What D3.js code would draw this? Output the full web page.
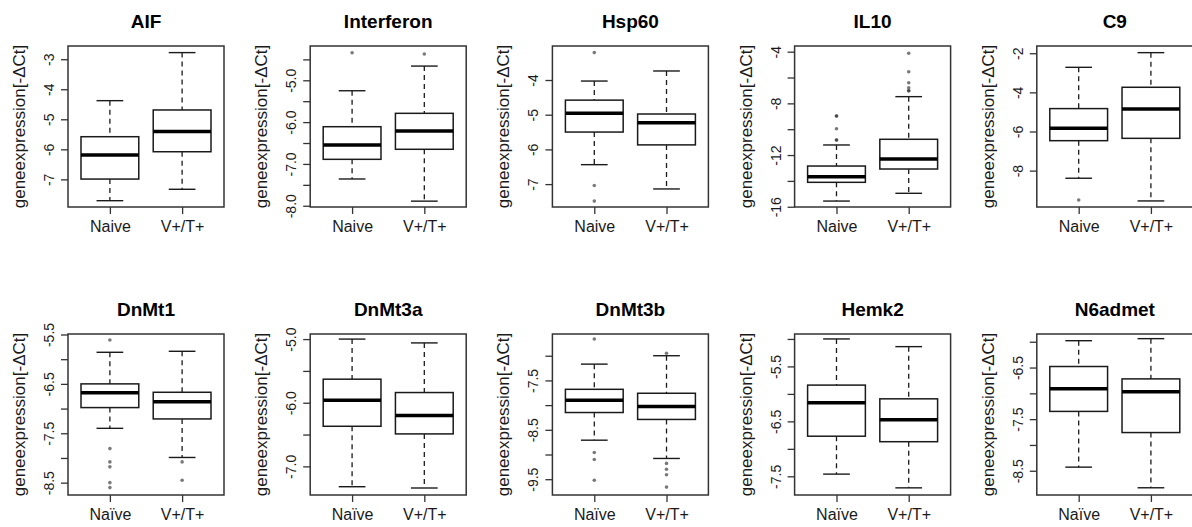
<!DOCTYPE html>
<html>
<head>
<meta charset="utf-8">
<script src="https://cdn.jsdelivr.net/npm/d3@7"></script>
<style>
  html, body { margin: 0; padding: 0; background: #fff; }
  svg { display: block; font-family: "Liberation Sans", Arial, Helvetica, sans-serif; }
</style>
</head>
<body>
<svg id="chart" width="1192" height="527"></svg>
<script>
// ---- data ----
const genes = ["AIF", "Interferon", "Hsp60", "IL10", "C9", "DnMt1", "DnMt3a", "DnMt3b", "Hemk2", "N6admet"];
const groupsTop = ["Naive", "V+/T+"];
const groupsBottom = ["Naïve", "V+/T+"];

// each entry: [Naive, V+/T+]
const whiskerLow  = [[-7.71, -7.33], [-7.36, -7.89], [-6.44, -7.14], [-15.56, -14.96], [-8.39, -9.55], [-7.40, -7.99], [-7.32, -7.34], [-8.71, -9.08], [-7.46, -7.71], [-8.43, -8.83]];
const quartile1   = [[-6.99, -6.08], [-6.89, -6.65], [-5.50, -5.87], [-14.11, -13.08], [-6.47, -6.35], [-6.98, -7.21], [-6.37, -6.49], [-8.15, -8.29], [-6.77, -6.87], [-7.35, -7.76]];
const medians     = [[-6.19, -5.41], [-6.55, -6.21], [-4.96, -5.23], [-13.67, -12.30], [-5.83, -4.85], [-6.68, -6.86], [-5.96, -6.20], [-7.90, -8.03], [-6.16, -6.47], [-6.91, -6.97]];
const quartile3   = [[-5.58, -4.69], [-6.11, -5.79], [-4.58, -4.98], [-12.85, -10.78], [-4.83, -3.74], [-6.50, -6.67], [-5.63, -5.84], [-7.68, -7.76], [-5.84, -6.09], [-6.48, -6.72]];
const whiskerHigh = [[-4.38, -2.78], [-5.25, -4.66], [-4.03, -3.74], [-11.22, -7.48], [-2.72, -1.97], [-5.86, -5.84], [-5.00, -5.06], [-7.17, -7.00], [-5.00, -5.14], [-5.98, -5.94]];
const outliers = [
  [[], []],
  [[-4.34], [-4.37]],
  [[-3.21, -7.04, -7.49], []],
  [[-8.98, -8.98, -9.96, -10.83, -10.83], [-4.12, -5.55, -6.40, -6.79, -7.02, -7.02]],
  [[-9.50], []],
  [[-5.61, -7.81, -8.08, -8.18, -8.50, -8.60], [-8.08, -8.45]],
  [[], []],
  [[-6.66, -8.96, -9.10, -9.52], [-6.95, -9.18, -9.30, -9.41, -9.66]],
  [[], []],
  [[], []]
];

const yDomains = [[-7.92, -2.56], [-8.03, -4.18], [-7.66, -3.02], [-16.02, -3.56], [-9.86, -1.63],
                  [-8.75, -5.49], [-7.45, -4.92], [-9.82, -6.56], [-7.84, -4.91], [-8.97, -5.85]];
const yTicks = [
  [-3, -4, -5, -6, -7],
  [-4.5, -5, -5.5, -6, -6.5, -7, -7.5, -8],
  [-4, -5, -6, -7],
  [-4, -6, -8, -10, -12, -14, -16],
  [-2, -4, -6, -8],
  [-5.5, -6, -6.5, -7, -7.5, -8, -8.5],
  [-5, -5.5, -6, -6.5, -7],
  [-7, -7.5, -8, -8.5, -9, -9.5],
  [-5, -5.5, -6, -6.5, -7, -7.5],
  [-6, -6.5, -7, -7.5, -8, -8.5]
];
const yTickLabels = [
  ["-3", "-4", "-5", "-6", "-7"],
  ["", "-5.0", "", "-6.0", "", "-7.0", "", "-8.0"],
  ["-4", "-5", "-6", "-7"],
  ["-4", "", "-8", "", "-12", "", "-16"],
  ["-2", "-4", "-6", "-8"],
  ["-5.5", "", "-6.5", "", "-7.5", "", "-8.5"],
  ["-5.0", "", "-6.0", "", "-7.0"],
  ["", "-7.5", "", "-8.5", "", "-9.5"],
  ["", "-5.5", "", "-6.5", "", "-7.5"],
  ["", "-6.5", "", "-7.5", "", "-8.5"]
];
const yAxisTitle = "geneexpression[-ΔCt]";

// ---- layout ----
const svg = d3.select("#chart");
const plotW = 156, plotH = 161;
const colStep = 242.2, rowTops = [46, 334], firstLeft = 68;
const ink = "#1a1a1a";

genes.forEach((gene, gi) => {
  const row = Math.floor(gi / 5), col = gi % 5;
  const left = firstLeft + col * colStep, top = rowTops[row];
  const groups = row === 0 ? groupsTop : groupsBottom;

  const x = d3.scaleLinear().domain([0.42, 2.58]).range([0, plotW]);
  const y = d3.scaleLinear().domain(yDomains[gi]).range([plotH, 0]);
  const unit = x(2) - x(1);
  const boxW = 0.8 * unit, capW = 0.37 * unit;

  const g = svg.append("g").attr("transform", `translate(${left},${top})`);

  // boxes
  [0, 1].forEach(k => {
    const cx = x(k + 1);
    const bg = g.append("g");
    // whiskers
    bg.append("line").attr("x1", cx).attr("x2", cx)
      .attr("y1", y(whiskerHigh[gi][k])).attr("y2", y(quartile3[gi][k]))
      .attr("stroke", ink).attr("stroke-width", 1.3).attr("stroke-dasharray", "5,4");
    bg.append("line").attr("x1", cx).attr("x2", cx)
      .attr("y1", y(quartile1[gi][k])).attr("y2", y(whiskerLow[gi][k]))
      .attr("stroke", ink).attr("stroke-width", 1.3).attr("stroke-dasharray", "5,4");
    // staples
    [whiskerHigh[gi][k], whiskerLow[gi][k]].forEach(v => {
      bg.append("line").attr("x1", cx - capW / 2).attr("x2", cx + capW / 2)
        .attr("y1", y(v)).attr("y2", y(v))
        .attr("stroke", ink).attr("stroke-width", 1.4);
    });
    // box
    bg.append("rect").attr("x", cx - boxW / 2).attr("width", boxW)
      .attr("y", y(quartile3[gi][k])).attr("height", y(quartile1[gi][k]) - y(quartile3[gi][k]))
      .attr("fill", "#fff").attr("stroke", ink).attr("stroke-width", 1.5);
    // median
    bg.append("line").attr("x1", cx - boxW / 2).attr("x2", cx + boxW / 2)
      .attr("y1", y(medians[gi][k])).attr("y2", y(medians[gi][k]))
      .attr("stroke", "#000").attr("stroke-width", 3.5);
    // outliers
    bg.selectAll("circle.out").data(outliers[gi][k]).enter().append("circle")
      .attr("class", "out").attr("cx", cx).attr("cy", d => y(d)).attr("r", 1.8)
      .attr("fill", "#333").attr("fill-opacity", 0.65);
  });

  // frame
  g.append("rect").attr("x", 0).attr("y", 0).attr("width", plotW).attr("height", plotH)
    .attr("fill", "none").attr("stroke", "#333").attr("stroke-width", 1.5);

  // y axis
  const yAxis = d3.axisLeft(y).tickValues(yTicks[gi])
    .tickFormat((d, i) => yTickLabels[gi][i]).tickSize(7).tickSizeOuter(0);
  const ya = g.append("g").call(yAxis);
  ya.select(".domain").remove();
  ya.selectAll(".tick line").attr("stroke", "#333").attr("stroke-width", 1.3);
  ya.selectAll(".tick text")
    .attr("x", null).attr("dy", null).attr("y", null)
    .attr("text-anchor", "middle")
    .attr("transform", "translate(-14,0) rotate(-90)")
    .attr("font-size", 14).attr("fill", ink)
    .attr("font-family", "Liberation Sans, Arial, sans-serif");

  // x axis
  const xAxis = d3.axisBottom(x).tickValues([1, 2])
    .tickFormat((d, i) => groups[i]).tickSize(7).tickSizeOuter(0);
  const xa = g.append("g").attr("transform", `translate(0,${plotH})`).call(xAxis);
  xa.select(".domain").remove();
  xa.selectAll(".tick line").attr("stroke", "#333").attr("stroke-width", 1.3);
  xa.selectAll(".tick text").attr("y", 25).attr("dy", null)
    .attr("font-size", 16).attr("fill", ink)
    .attr("font-family", "Liberation Sans, Arial, sans-serif");

  // y axis title
  g.append("text")
    .attr("transform", `translate(-43,${plotH / 2}) rotate(-90)`)
    .attr("text-anchor", "middle").attr("font-size", 17).attr("fill", ink)
    .text(yAxisTitle);

  // title
  g.append("text").attr("x", plotW / 2).attr("y", -18)
    .attr("text-anchor", "middle").attr("font-size", 19).attr("font-weight", "bold")
    .attr("fill", "#000").text(gene);
});
</script>
</body>
</html>
